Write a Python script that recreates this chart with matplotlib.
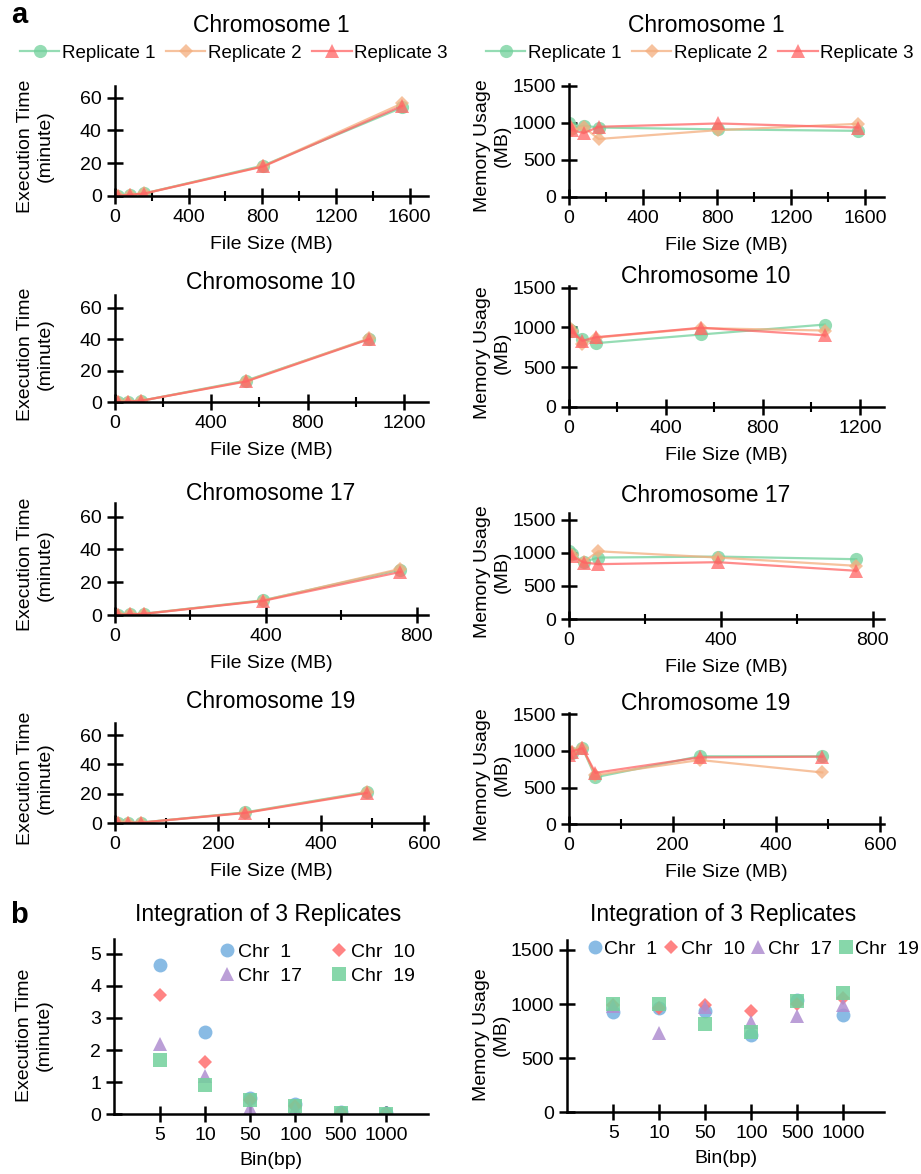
import matplotlib
matplotlib.use('Agg')
import matplotlib.pyplot as plt
from matplotlib.ticker import MultipleLocator

plt.rcParams['font.family'] = ['Liberation Sans', 'DejaVu Sans']
plt.rcParams['font.size'] = 14

# ---- data: panel a (file size in MB, execution time in minutes, memory in MB)
chroms = ['Chromosome 1', 'Chromosome 10', 'Chromosome 17', 'Chromosome 19']
rep_names = ['Replicate 1', 'Replicate 2', 'Replicate 3']

size_chr1 = [1.6, 16, 80, 160, 805, 1560]
size_chr10 = [1.1, 11, 55, 110, 545, 1055]
size_chr17 = [0.8, 7.7, 39, 77, 392, 757]
size_chr19 = [0.5, 5, 26, 51, 252, 489]

time_chr1 = [[0.02, 0.15, 0.7, 1.6, 18.6, 54.0],
             [0.02, 0.15, 0.7, 1.6, 18.2, 56.5],
             [0.02, 0.15, 0.7, 1.5, 18.0, 55.0]]
time_chr10 = [[0.02, 0.1, 0.5, 1.0, 13.8, 40.2],
              [0.02, 0.1, 0.5, 1.0, 13.5, 40.5],
              [0.02, 0.1, 0.5, 1.0, 13.2, 40.0]]
time_chr17 = [[0.01, 0.08, 0.4, 0.8, 9.0, 27.6],
              [0.01, 0.08, 0.4, 0.8, 8.8, 28.2],
              [0.01, 0.08, 0.4, 0.7, 8.6, 26.3]]
time_chr19 = [[0.01, 0.05, 0.3, 0.5, 7.4, 21.3],
              [0.01, 0.05, 0.3, 0.5, 7.2, 21.0],
              [0.01, 0.05, 0.3, 0.5, 7.0, 20.6]]

mem_chr1 = [[1000, 930, 960, 935, 910, 890],
            [960, 900, 940, 780, 900, 985],
            [1000, 900, 860, 945, 990, 935]]
mem_chr10 = [[980, 960, 850, 800, 910, 1035],
             [1000, 960, 790, 870, 990, 960],
             [1000, 950, 830, 875, 995, 900]]
mem_chr17 = [[1025, 980, 865, 930, 945, 905],
             [990, 970, 865, 1025, 930, 805],
             [1000, 950, 855, 830, 860, 730]]
mem_chr19 = [[990, 970, 1040, 640, 925, 925],
             [960, 990, 1035, 670, 875, 705],
             [940, 990, 1035, 700, 910, 920]]

# ---- data: panel b (integration of 3 replicates)
bins = ['5', '10', '50', '100', '500', '1000']
int_names = ['Chr  1', 'Chr  10', 'Chr  17', 'Chr  19']
int_time = [[4.65, 2.56, 0.50, 0.32, 0.07, 0.03],
            [3.70, 1.63, 0.45, 0.25, 0.05, 0.02],
            [2.18, 1.18, 0.20, 0.15, 0.03, 0.02],
            [1.68, 0.92, 0.45, 0.25, 0.03, 0.02]]
int_mem = [[930, 965, 940, 715, 1035, 900],
           [990, 960, 990, 935, 1005, 1060],
           [980, 730, 975, 830, 890, 990],
           [1005, 1005, 815, 745, 1030, 1100]]

sizes = [size_chr1, size_chr10, size_chr17, size_chr19]
times = [time_chr1, time_chr10, time_chr17, time_chr19]
mems = [mem_chr1, mem_chr10, mem_chr17, mem_chr19]

# ---- styles
rep_colors = ['#72D19B', '#F4AE7E', '#FF6464']
rep_markers = ['o', 'D', '^']
rep_ms = [9.5, 7, 9.5]
int_colors = ['#74B0E0', '#FF6E6E', '#B08ED0', '#72D19B']
int_markers = ['o', 'D', '^', 's']
int_ms = [10, 7, 10, 10]

xlims = [1700, 1300, 830, 608]
xmajor = [400, 400, 400, 200]

W, H = 921, 1174
fig = plt.figure(figsize=(W / 100, H / 100), dpi=100)


def px_axes(left, top, right, bottom):
    return fig.add_axes([left / W, 1 - bottom / H, (right - left) / W, (bottom - top) / H])


def style_axes(ax):
    for s in ['top', 'right']:
        ax.spines[s].set_visible(False)
    for s in ['left', 'bottom']:
        ax.spines[s].set_linewidth(1.8)
    ax.tick_params(which='major', direction='inout', length=11, width=1.8, pad=4)
    ax.tick_params(which='minor', direction='inout', length=7, width=1.5)
    ax.tick_params(axis='y', which='minor', left=False)


def set_ylabel_px(ax, text, right_px, left_px, width_px):
    ax.set_ylabel(text, linespacing=1.25)
    ax.yaxis.set_label_coords((right_px - left_px) / width_px, 0.45)


def set_xlabel_px(ax, text, gap_px, height_px):
    ax.set_xlabel(text)
    ax.xaxis.set_label_coords(0.5, -gap_px / height_px)


# axes boxes (left, top, right, bottom) in pixels
left_boxes = [(115, 85.7, 428, 196), (115, 295, 428, 402.3),
              (115, 503.3, 428, 615), (115, 723.3, 428, 823.3)]
right_boxes = [(569, 83.5, 884, 196.7), (569, 286, 884, 406.7),
               (569, 513.3, 884, 619), (569, 713.3, 884, 824.3)]
left_ytop = [67.3, 68, 68.2, 68]
right_ytop = [1530, 1521, 1600, 1510]
title_y_left = [25, 282.7, 493.3, 701.7]
title_y_right = [25, 276.7, 496, 704]

leg_kw = dict(loc='center', bbox_transform=fig.transFigure, ncol=3, frameon=False,
              fontsize=13.5, handlelength=2.1, handletextpad=0.15, columnspacing=0.55,
              borderpad=0, borderaxespad=0)

for i in range(4):
    # execution time
    b = left_boxes[i]
    ax = px_axes(*b)
    for r in range(3):
        ax.plot(sizes[i], times[i][r], color=rep_colors[r], marker=rep_markers[r],
                ms=rep_ms[r], mew=0, lw=1.6, alpha=0.75, label=rep_names[r])
    ax.set_xlim(0, xlims[i])
    ax.set_ylim(0, left_ytop[i])
    ax.set_yticks([0, 20, 40, 60])
    ax.xaxis.set_major_locator(MultipleLocator(xmajor[i]))
    ax.xaxis.set_minor_locator(MultipleLocator(xmajor[i] / 2))
    style_axes(ax)
    set_ylabel_px(ax, 'Execution Time\n(minute)', 54, b[0], b[2] - b[0])
    set_xlabel_px(ax, 'File Size (MB)', 40, b[3] - b[1])
    fig.text(271 / W, 1 - title_y_left[i] / H, chroms[i], fontsize=16.5,
             ha='center', va='center')
    if i == 0:
        ax.legend(bbox_to_anchor=(234 / W, 1 - 53 / H), **leg_kw)

    # memory usage
    b = right_boxes[i]
    ax = px_axes(*b)
    for r in range(3):
        ax.plot(sizes[i], mems[i][r], color=rep_colors[r], marker=rep_markers[r],
                ms=rep_ms[r], mew=0, lw=1.6, alpha=0.75, label=rep_names[r])
    ax.set_xlim(0, xlims[i])
    ax.set_ylim(0, right_ytop[i])
    ax.set_yticks([0, 500, 1000, 1500])
    ax.xaxis.set_major_locator(MultipleLocator(xmajor[i]))
    ax.xaxis.set_minor_locator(MultipleLocator(xmajor[i] / 2))
    style_axes(ax)
    set_ylabel_px(ax, 'Memory Usage\n(MB)', 511, b[0], b[2] - b[0])
    set_xlabel_px(ax, 'File Size (MB)', 40, b[3] - b[1])
    fig.text(706 / W, 1 - title_y_right[i] / H, chroms[i], fontsize=16.5,
             ha='center', va='center')
    if i == 0:
        ax.legend(bbox_to_anchor=(700 / W, 1 - 53 / H), **leg_kw)

# ---- panel b
xpos = list(range(1, len(bins) + 1))

b = (114.3, 939.3, 427.7, 1114.3)
ax = px_axes(*b)
hs = []
for c in range(4):
    h, = ax.plot(xpos, int_time[c], ls='none', marker=int_markers[c], ms=int_ms[c],
                 mew=0, color=int_colors[c], alpha=0.85, label=int_names[c])
    hs.append(h)
ax.set_xlim(0, 6.92)
ax.set_ylim(0, 5.45)
ax.set_xticks(xpos)
ax.set_xticklabels(bins)
ax.set_yticks([0, 1, 2, 3, 4, 5])
style_axes(ax)
set_ylabel_px(ax, 'Execution Time\n(minute)', 53, b[0], b[2] - b[0])
set_xlabel_px(ax, 'Bin(bp)', 38, b[3] - b[1])
order = [0, 2, 1, 3]
ax.legend([hs[k] for k in order], [int_names[k] for k in order],
          loc='center', bbox_to_anchor=(318 / W, 1 - 964 / H),
          bbox_transform=fig.transFigure, ncol=2, frameon=False,
          handlelength=0.6, handletextpad=0.3, columnspacing=1.6,
          labelspacing=0.35, borderpad=0, borderaxespad=0)
fig.text(268 / W, 1 - 915 / H, 'Integration of 3 Replicates', fontsize=16.5,
         ha='center', va='center')

b = (567.3, 940, 884, 1112.3)
ax = px_axes(*b)
for c in range(4):
    ax.plot(xpos, int_mem[c], ls='none', marker=int_markers[c], ms=int_ms[c],
            mew=0, color=int_colors[c], alpha=0.85, label=int_names[c])
ax.set_xlim(0, 6.88)
ax.set_ylim(0, 1592)
ax.set_xticks(xpos)
ax.set_xticklabels(bins)
ax.set_yticks([0, 500, 1000, 1500])
style_axes(ax)
set_ylabel_px(ax, 'Memory Usage\n(MB)', 510, b[0], b[2] - b[0])
set_xlabel_px(ax, 'Bin(bp)', 38, b[3] - b[1])
ax.legend(loc='center', bbox_to_anchor=(754 / W, 1 - 949 / H),
          bbox_transform=fig.transFigure, ncol=4, frameon=False,
          handlelength=0.6, handletextpad=0.2, columnspacing=0.4,
          borderpad=0, borderaxespad=0)
fig.text(723 / W, 1 - 915 / H, 'Integration of 3 Replicates', fontsize=16.5,
         ha='center', va='center')

# panel letters
fig.text(19 / W, 1 - 15 / H, 'a', fontsize=21, fontweight='bold', ha='center', va='center')
fig.text(19 / W, 1 - 915 / H, 'b', fontsize=21, fontweight='bold', ha='center', va='center')

fig.savefig('out.png', dpi=100)
